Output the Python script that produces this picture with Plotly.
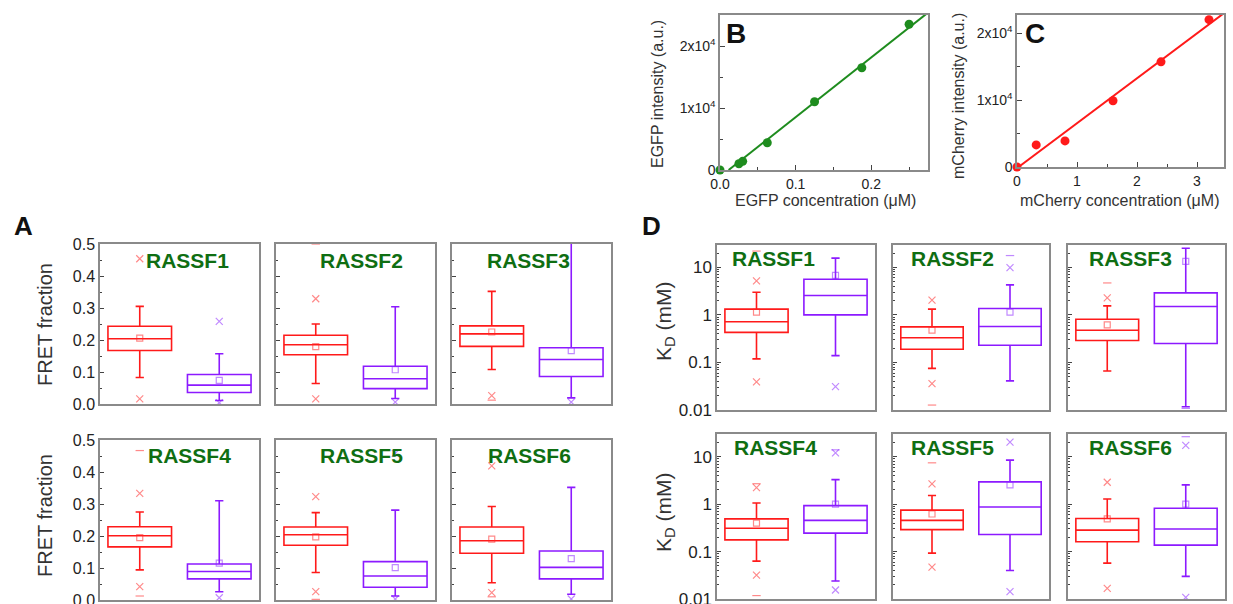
import numpy as np
import plotly.graph_objects as go

W, H = 1233, 604
FONT = "Arial, Liberation Sans, sans-serif"

# ---------------- data ----------------
# Panel B: EGFP calibration
egfp_conc = [0.0, 0.025, 0.03, 0.0625, 0.125, 0.1875, 0.25]
egfp_int = [0, 1000, 1400, 4400, 11000, 16500, 23500]
# Panel C: mCherry calibration
mcherry_conc = [0.0, 0.32, 0.8, 1.6, 2.4, 3.2]
mcherry_int = [0, 3300, 3900, 9900, 15700, 22000]

families = ["RASSF1", "RASSF2", "RASSF3", "RASSF4", "RASSF5", "RASSF6"]

# Panel A: FRET fraction, red group
fret_red_lo = [0.083, 0.064, 0.108, 0.094, 0.086, 0.054]
fret_red_q1 = [0.167, 0.154, 0.180, 0.166, 0.171, 0.146]
fret_red_med = [0.204, 0.185, 0.219, 0.201, 0.204, 0.185]
fret_red_q3 = [0.243, 0.215, 0.244, 0.229, 0.228, 0.228]
fret_red_hi = [0.305, 0.250, 0.352, 0.275, 0.273, 0.292]
fret_red_mean = [0.206, 0.179, 0.225, 0.195, 0.197, 0.190]
fret_red_out = [[0.454, 0.016], [0.329, 0.016], [0.026], [0.333, 0.042], [0.323, 0.026], [0.419, 0.023]]
fret_red_ends = [[], [0.5], [0.012], [0.467, 0.0125], [0.002], [0.01]]
# Panel A: FRET fraction, purple group
fret_pur_lo = [0.011, 0.017, 0.019, 0.026, 0.0125, 0.018]
fret_pur_q1 = [0.036, 0.048, 0.086, 0.066, 0.040, 0.066]
fret_pur_med = [0.059, 0.079, 0.139, 0.089, 0.075, 0.102]
fret_pur_q3 = [0.092, 0.118, 0.176, 0.1125, 0.120, 0.153]
fret_pur_hi = [0.157, 0.304, 0.56, 0.310, 0.281, 0.352]
fret_pur_mean = [0.074, 0.107, 0.167, 0.115, 0.101, 0.129]
fret_pur_out = [[0.258, 0.004], [0.006], [0.006], [0.007], [0.458, 0.003], [0.003]]
fret_pur_ends = [[], [], [], [], [], []]

# Panel D: KD (mM), red group
kd_red_lo = [0.119, 0.075, 0.066, 0.063, 0.093, 0.057]
kd_red_q1 = [0.43, 0.19, 0.29, 0.177, 0.29, 0.161]
kd_red_med = [0.72, 0.33, 0.475, 0.31, 0.455, 0.284]
kd_red_q3 = [1.32, 0.56, 0.81, 0.49, 0.75, 0.50]
kd_red_hi = [3.0, 1.32, 1.55, 1.06, 1.52, 1.29]
kd_red_mean = [1.14, 0.48, 0.615, 0.40, 0.62, 0.49]
kd_red_out = [[5.2, 0.039], [2.04, 0.036], [2.28], [2.24, 0.032], [2.68, 0.047], [2.9, 0.0168]]
kd_red_ends = [[22], [0.0127], [4.7], [2.7, 0.0118], [7.45], []]
# Panel D: KD (mM), purple group
kd_pur_lo = [0.139, 0.041, 0.0117, 0.024, 0.040, 0.030]
kd_pur_q1 = [1.0, 0.23, 0.25, 0.245, 0.23, 0.137]
kd_pur_med = [2.55, 0.57, 1.5, 0.455, 0.87, 0.30]
kd_pur_q3 = [5.6, 1.36, 2.9, 0.93, 2.95, 0.82]
kd_pur_hi = [15.6, 4.28, 25.3, 3.3, 8.5, 2.55]
kd_pur_mean = [6.8, 1.14, 13.3, 1.0, 2.55, 1.0]
kd_pur_out = [[0.031], [9.9], [], [12.1, 0.0155], [20.4, 0.0143], [17.4, 0.0108]]
kd_pur_ends = [[], [17.7], [0.0108], [14], [], [26.5]]

fret_ticks = [0.0, 0.1, 0.2, 0.3, 0.4, 0.5]
kd_ticks = [0.01, 0.1, 1, 10]
kd_tick_text = ["0.01", "0.1", "1", "10"]

# ---------------- styling ----------------
RED = "#ff1a1a"
PUR = "#8c1aff"
RED_L = "rgba(255,40,40,0.55)"
PUR_L = "rgba(140,40,255,0.55)"
GREEN = "#1e8c1e"
TITLE_GREEN = "#0f6e12"
FRAME = "#8a8a8a"


def xd(a, b):
    return [a / W, b / W]


def yd(top, bottom):
    return [1 - bottom / H, 1 - top / H]


fig = go.Figure()
layout = dict(width=W, height=H, margin=dict(l=0, r=0, t=0, b=0, pad=0),
              paper_bgcolor="white", plot_bgcolor="white",
              font=dict(family=FONT, color="#222"), showlegend=False)
annotations = []


def axname(i):
    return ("x", "y") if i == 1 else (f"x{i}", f"y{i}")


def frame_axis(**kw):
    d = dict(showline=True, mirror=True, linecolor=FRAME, linewidth=1.5, automargin=False,
             ticklabeloverflow="allow",
             showgrid=False, zeroline=False, ticks="inside", tickcolor="#444",
             tickfont=dict(size=16, family=FONT, color="#222"))
    d.update(kw)
    return d


# ---------- Panel B ----------
xa, ya = axname(1)
layout["xaxis"] = frame_axis(domain=xd(720, 928), anchor="y", range=[0, 0.275],
                             tickvals=[0, 0.1, 0.2], ticktext=["0.0", "0.1", "0.2"], ticklen=5,
                             minor=dict(ticks="inside", ticklen=3, dtick=0.05, tickcolor="#444"),
                             tickfont=dict(size=14, family=FONT, color="#222"))
layout["yaxis"] = frame_axis(domain=yd(15, 170), anchor="x", range=[0, 25000],
                             tickvals=[0, 10000, 20000],
                             ticktext=["0", "1x10<sup>4</sup>", "2x10<sup>4</sup>"], ticklen=5,
                             minor=dict(ticks="inside", ticklen=3, dtick=5000, tickcolor="#444"),
                             tickfont=dict(size=14, family=FONT, color="#222"))
a, b = np.polyfit(egfp_conc, egfp_int, 1)
lx = np.array([-b / a, 0.30])
fig.add_trace(go.Scatter(x=lx, y=a * lx + b, mode="lines", line=dict(color=GREEN, width=2),
                         xaxis=xa, yaxis=ya, hoverinfo="skip"))
fig.add_trace(go.Scatter(x=egfp_conc, y=egfp_int, mode="markers",
                         marker=dict(color=GREEN, size=9), xaxis=xa, yaxis=ya, cliponaxis=False))

# ---------- Panel C ----------
xa, ya = axname(2)
layout["xaxis2"] = frame_axis(domain=xd(1017, 1224), anchor="y2", range=[0, 3.45],
                              tickvals=[0, 1, 2, 3], ticklen=5,
                              minor=dict(ticks="inside", ticklen=3, dtick=0.5, tickcolor="#444"),
                              tickfont=dict(size=14, family=FONT, color="#222"))
layout["yaxis2"] = frame_axis(domain=yd(15, 167), anchor="x2", range=[0, 22700],
                              tickvals=[0, 10000, 20000],
                              ticktext=["0", "1x10<sup>4</sup>", "2x10<sup>4</sup>"], ticklen=5,
                              minor=dict(ticks="inside", ticklen=3, dtick=5000, tickcolor="#444"),
                              tickfont=dict(size=14, family=FONT, color="#222"))
a, b = np.polyfit(mcherry_conc, mcherry_int, 1)
lx = np.array([-b / a, 3.6])
fig.add_trace(go.Scatter(x=lx, y=a * lx + b, mode="lines", line=dict(color=RED, width=2),
                         xaxis=xa, yaxis=ya, hoverinfo="skip"))
fig.add_trace(go.Scatter(x=mcherry_conc, y=mcherry_int, mode="markers",
                         marker=dict(color=RED, size=9), xaxis=xa, yaxis=ya, cliponaxis=False))

# ---------- box panels ----------
col_x = [(100, 259), (276, 435), (452, 611)]
col_xd = [(717, 875), (893, 1049), (1068, 1225)]
rows_a = [(244, 404), (440, 600)]
rows_d = [(245, 410), (434, 599)]
title_pos_a = [0.553, 0.535, 0.484, 0.565, 0.54, 0.49]
title_pos_d = [0.36, 0.38, 0.40, 0.37, 0.38, 0.40]


def add_group(xa, ya, pos, lo, q1, med, q3, hi, mean, outs, ends, col, coll):
    fig.add_trace(go.Box(x=[pos], q1=[q1], median=[med], q3=[q3], lowerfence=[lo], upperfence=[hi],
                         width=0.8, whiskerwidth=0.13, boxpoints=False,
                         line=dict(color=col, width=1.6), fillcolor="rgba(255,255,255,0)",
                         xaxis=xa, yaxis=ya, hoverinfo="skip"))
    fig.add_trace(go.Scatter(x=[pos], y=[mean], mode="markers",
                             marker=dict(symbol="square-open", size=6, color=coll, line=dict(width=1.2)),
                             xaxis=xa, yaxis=ya, hoverinfo="skip"))
    if outs:
        fig.add_trace(go.Scatter(x=[pos] * len(outs), y=outs, mode="markers",
                                 marker=dict(symbol="x-thin-open", size=7, color=coll,
                                             line=dict(width=1.2, color=coll)),
                                 xaxis=xa, yaxis=ya, hoverinfo="skip"))
    if ends:
        fig.add_trace(go.Scatter(x=[pos] * len(ends), y=ends, mode="markers",
                                 marker=dict(symbol="line-ew-open", size=6, color=coll,
                                             line=dict(width=1.2, color=coll)),
                                 xaxis=xa, yaxis=ya, hoverinfo="skip"))


for k in range(6):
    r, c = divmod(k, 3)
    # ----- Panel A -----
    i = 3 + k
    xa, ya = axname(i)
    layout[f"xaxis{i}"] = frame_axis(domain=xd(*col_x[c]), anchor=ya, range=[0.5, 2.5],
                                     showticklabels=False, ticks="")
    layout[f"yaxis{i}"] = frame_axis(domain=yd(*rows_a[r]), anchor=xa, range=[0, 0.5],
                                     tickvals=fret_ticks, tickformat=".1f", ticklen=4,
                                     showticklabels=(c == 0),
                                     minor=dict(ticks="inside", ticklen=2, dtick=0.05, tickcolor="#444"))
    add_group(xa, ya, 1, fret_red_lo[k], fret_red_q1[k], fret_red_med[k], fret_red_q3[k],
              fret_red_hi[k], fret_red_mean[k], fret_red_out[k], fret_red_ends[k], RED, RED_L)
    add_group(xa, ya, 2, fret_pur_lo[k], fret_pur_q1[k], fret_pur_med[k], fret_pur_q3[k],
              fret_pur_hi[k], fret_pur_mean[k], fret_pur_out[k], fret_pur_ends[k], PUR, PUR_L)
    annotations.append(dict(text=f"<b>{families[k]}</b>", xref=f"{xa} domain", yref=f"{ya} domain",
                            x=title_pos_a[k], y=1, yshift=-16, xanchor="center", yanchor="middle",
                            showarrow=False, font=dict(size=21, color=TITLE_GREEN, family=FONT)))
    # ----- Panel D -----
    j = 9 + k
    xa, ya = axname(j)
    minor_vals = [m * 10.0 ** e for e in range(-2, 2) for m in range(2, 10)]
    layout[f"xaxis{j}"] = frame_axis(domain=xd(*col_xd[c]), anchor=ya, range=[0.5, 2.5],
                                     showticklabels=False, ticks="")
    layout[f"yaxis{j}"] = frame_axis(domain=yd(*rows_d[r]), anchor=xa, type="log",
                                     range=[-2, 1.47] if r == 0 else [-2, 1.48],
                                     tickvals=kd_ticks, ticktext=kd_tick_text, ticklen=4,
                                     showticklabels=(c == 0),
                                     tickfont=dict(size=17, family=FONT, color="#222"),
                                     minor=dict(ticks="inside", ticklen=2, tickvals=minor_vals,
                                                tickcolor="#444"))
    add_group(xa, ya, 1, kd_red_lo[k], kd_red_q1[k], kd_red_med[k], kd_red_q3[k],
              kd_red_hi[k], kd_red_mean[k], kd_red_out[k], kd_red_ends[k], RED, RED_L)
    add_group(xa, ya, 2, kd_pur_lo[k], kd_pur_q1[k], kd_pur_med[k], kd_pur_q3[k],
              kd_pur_hi[k], kd_pur_mean[k], kd_pur_out[k], kd_pur_ends[k], PUR, PUR_L)
    annotations.append(dict(text=f"<b>{families[k]}</b>", xref=f"{xa} domain", yref=f"{ya} domain",
                            x=title_pos_d[k], y=1, yshift=-13, xanchor="center", yanchor="middle",
                            showarrow=False, font=dict(size=21, color=TITLE_GREEN, family=FONT)))


def pannot(text, x, y, size, angle=0, bold=False):
    annotations.append(dict(text=(f"<b>{text}</b>" if bold else text), xref="paper", yref="paper",
                            x=x / W, y=1 - y / H, xanchor="center", yanchor="middle",
                            showarrow=False, textangle=angle,
                            font=dict(size=size, family=FONT, color="#111" if bold else "#333")))


# panel letters
pannot("A", 23, 226, 26, bold=True)
pannot("D", 652, 226, 26, bold=True)
pannot("B", 736, 33, 28, bold=True)
pannot("C", 1035, 33, 28, bold=True)
# axis titles
pannot("FRET fraction", 45, 324, 20, angle=-90)
pannot("FRET fraction", 45, 515, 20, angle=-90)
pannot("K<sub>D</sub> (mM)", 665, 322, 21, angle=-90)
pannot("K<sub>D</sub> (mM)", 665, 513, 21, angle=-90)
pannot("EGFP intensity (a.u.)", 657, 94, 16, angle=-90)
pannot("EGFP concentration (μM)", 825, 200, 16)
pannot("mCherry intensity (a.u.)", 958, 96, 16, angle=-90)
pannot("mCherry concentration (μM)", 1120, 200, 16)

layout["annotations"] = annotations
fig.update_layout(**layout)
fig.write_html("out.html", config={"displayModeBar": False},
               post_script="document.body.style.margin='0px';document.body.style.overflow='hidden';")
